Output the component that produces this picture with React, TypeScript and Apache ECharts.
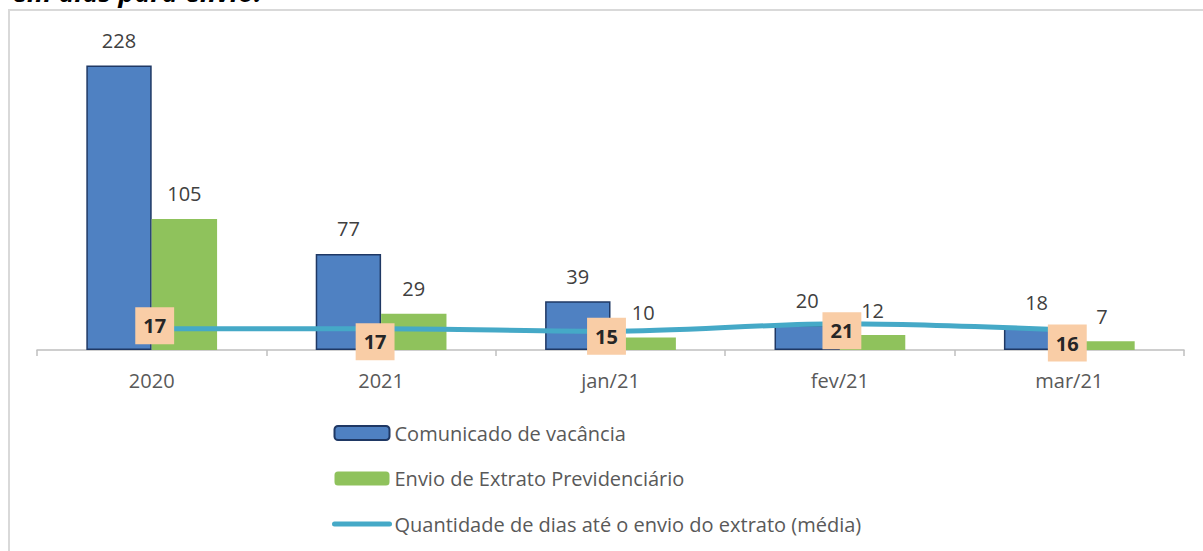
import React, { useEffect, useRef } from "react";
import * as echarts from "echarts";

const categories = ["2020", "2021", "jan/21", "fev/21", "mar/21"];
const comunicado = [228, 77, 39, 20, 18];
const envio = [105, 29, 10, 12, 7];
const diasMedia = [17, 17, 15, 21, 16];
const seriesNames = [
  "Comunicado de vacância",
  "Envio de Extrato Previdenciário",
  "Quantidade de dias até o envio do extrato (média)",
];
const titleText = "em dias para envio.";

// label placement (layout only)
const lineLabelOffsets = [
  [3, -3],
  [-6, 13],
  [-4, 5],
  [2, 7],
  [-2, 13],
];

const FONT = '"Open Sans", sans-serif';

export default function App() {
  const ref = useRef<HTMLDivElement>(null);
  useEffect(() => {
    if (!ref.current) return;
    const chart = echarts.init(ref.current, null, { renderer: "svg" });
    chart.setOption({
      animation: false,
      backgroundColor: "#ffffff",
      textStyle: { fontFamily: FONT },
      graphic: [
        {
          type: "rect",
          shape: { x: 9, y: 10, width: 1400, height: 800 },
          style: { fill: "none", stroke: "#D9D9D9", lineWidth: 2 },
          silent: true,
          z: 0,
        },
        {
          type: "text",
          left: 12,
          top: -22,
          style: {
            text: titleText,
            font: 'italic bold 27px "Open Sans", sans-serif',
            fill: "#000000",
          },
        },
      ],
      grid: { left: 37, right: 19, top: 38, bottom: 201, containLabel: false },
      legend: {
        orient: "vertical",
        left: 332,
        top: 423,
        padding: 0,
        itemWidth: 55,
        itemHeight: 14,
        itemGap: 25.5,
        textStyle: { fontSize: 20, color: "#595959", fontFamily: FONT },
        data: [
          { name: seriesNames[0] },
          { name: seriesNames[1] },
          { name: seriesNames[2], lineStyle: { width: 5, cap: "round" } },
        ],
      },
      xAxis: {
        type: "category",
        data: categories,
        boundaryGap: true,
        axisLine: { lineStyle: { color: "#BFBFBF", width: 1.5 } },
        axisTick: { show: true, length: 6, lineStyle: { color: "#BFBFBF", width: 1.5 } },
        axisLabel: { fontSize: 20, color: "#595959", margin: 20, fontFamily: FONT },
      },
      yAxis: {
        type: "value",
        min: 0,
        max: 250,
        show: false,
        splitLine: { show: false },
      },
      series: [
        {
          name: seriesNames[0],
          type: "bar",
          data: comunicado,
          barGap: "0%",
          barCategoryGap: "43%",
          itemStyle: { color: "#4F81C2", borderColor: "#1F3864", borderWidth: 1.5 },
          label: {
            show: true,
            position: "top",
            distance: 15,
            fontSize: 20,
            color: "#404040",
            fontFamily: FONT,
          },
          z: 2,
        },
        {
          name: seriesNames[1],
          type: "bar",
          data: envio,
          itemStyle: { color: "#8FC25C" },
          label: {
            show: true,
            position: "top",
            distance: 15,
            fontSize: 20,
            color: "#404040",
            fontFamily: FONT,
          },
          z: 2,
        },
        {
          name: seriesNames[2],
          type: "line",
          data: diasMedia.map((v, i) => ({
            value: v,
            label: { offset: lineLabelOffsets[i] },
          })),
          smooth: 0.3,
          symbol: "circle",
          symbolSize: 1,
          showSymbol: true,
          lineStyle: { color: "#45A9C7", width: 5, cap: "round" },
          itemStyle: { color: "rgba(0,0,0,0)" },
          label: {
            show: true,
            position: "inside",
            fontSize: 20,
            fontWeight: "bold",
            color: "#262626",
            backgroundColor: "#F9CDA6",
            padding: [9, 8, 8, 8],
            fontFamily: FONT,
          },
          z: 5,
        },
      ],
    });
    return () => chart.dispose();
  }, []);
  return (
    <div
      ref={ref}
      style={{ position: "absolute", left: 0, top: 0, width: 1203, height: 551 }}
    />
  );
}
